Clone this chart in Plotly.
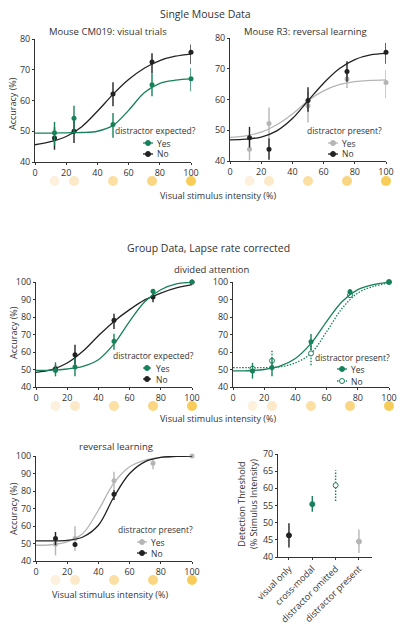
import plotly.graph_objects as go

GREEN = '#17815a'
BLACK = '#222222'
GREY = '#b5b5b5'
AX = '#333333'
FONT = 'Open Sans'
DOT = '1.5px,1.5px'

# ---------------- data ----------------
intensity = [12.5, 25, 50, 75, 100]
circle_colors = ['#fdf1de', '#fce9c7', '#fbdfa3', '#fad682', '#f8cc58']
fit_x = [0, 10, 20, 30, 40, 50, 60, 70, 80, 90, 100]

# Panel 1: Mouse CM019 visual trials (distractor expected?)
p1_yes = [49.5, 54.2, 52.2, 65.1, 67.1]
p1_yes_hi = [53.0, 58.3, 55.9, 68.9, 70.6]
p1_yes_lo = [45.4, 49.6, 47.9, 61.4, 63.0]
p1_no = [47.8, 50.0, 62.1, 72.5, 75.7]
p1_no_hi = [51.3, 53.8, 65.9, 75.4, 78.2]
p1_no_lo = [44.0, 46.2, 58.1, 68.9, 71.9]
p1_yes_fit = [49.4, 49.4, 49.5, 49.6, 50.0, 51.9, 56.8, 62.5, 65.6, 66.6, 67.0]
p1_no_fit = [45.6, 46.6, 48.3, 51.5, 56.5, 62.0, 66.8, 70.5, 73.0, 74.4, 75.1]

# Panel 2: Mouse R3 reversal learning (distractor present?)
p2_yes = [43.8, 52.2, 58.0, 66.7, 65.5]
p2_yes_hi = [47.3, 57.4, 62.5, 69.6, 69.6]
p2_yes_lo = [40.2, 46.8, 52.5, 63.7, 60.4]
p2_no = [47.6, 43.8, 59.7, 69.1, 75.4]
p2_no_hi = [51.1, 47.3, 64.0, 72.4, 78.4]
p2_no_lo = [44.4, 40.4, 56.0, 65.8, 71.6]
p2_yes_fit = [47.7, 48.2, 49.4, 51.8, 55.3, 59.6, 62.8, 64.8, 65.8, 66.2, 66.4]
p2_no_fit = [46.9, 47.1, 47.8, 49.8, 53.8, 59.6, 65.3, 70.0, 73.0, 74.5, 75.0]

# Panel 3: group, divided attention (distractor expected?)
p3_yes = [49.5, 51.4, 66.1, 94.7, 100]
p3_yes_hi = [54.1, 56.6, 70.5, 96.0, 100]
p3_yes_lo = [46.1, 46.1, 61.3, 92.8, 100]
p3_no = [50.5, 58.5, 78.1, 91.4, 100]
p3_no_hi = [52.5, 64.2, 81.9, 94.1, 100]
p3_no_lo = [48.5, 52.8, 73.1, 88.4, 100]
p3_yes_fit = [49.5, 49.6, 50.3, 51.8, 55.6, 64.6, 77.5, 89.0, 95.6, 98.9, 99.8]
p3_no_fit = [48.4, 49.9, 53.7, 60.4, 69.3, 77.5, 84.2, 89.9, 93.7, 96.6, 98.5]

# Panel 4: group, divided attention (distractor present?)
p4_yes = [49.2, 51.1, 65.9, 94.4, 100]
p4_yes_hi = [53.8, 56.3, 70.3, 96.0, 100]
p4_yes_lo = [44.8, 46.2, 61.1, 92.7, 100]
p4_no = [50.5, 55.0, 59.2, 92.5, 100]
p4_no_hi = [52.0, 61.5, 65.0, 94.6, 100]
p4_no_lo = [49.0, 49.6, 52.5, 90.8, 100]
p4_yes_fit = [49.2, 49.3, 50.0, 51.9, 56.3, 64.9, 77.4, 88.9, 95.6, 98.5, 99.8]
p4_no_fit = [51.1, 51.1, 51.1, 51.5, 53.8, 59.2, 71.6, 85.0, 93.7, 97.5, 99.4]

# Panel 5: group, reversal learning (distractor present?)
p5_yes = [49.6, 52.8, 85.9, 95.8, 100]
p5_yes_hi = [54.7, 59.9, 91.0, 98.1, 100]
p5_yes_lo = [43.2, 45.7, 80.1, 92.4, 100]
p5_no_x = [12.5, 25, 50]
p5_no = [52.8, 49.4, 78.2]
p5_no_hi = [56.6, 50.5, 80.5]
p5_no_lo = [49.0, 48.0, 74.8]
p5_yes_fit = [49.0, 49.3, 50.9, 55.7, 69.0, 84.7, 93.9, 97.7, 99.2, 99.8, 100]
p5_no_fit = [51.5, 51.5, 51.8, 53.7, 60.4, 76.7, 90.0, 96.8, 99.2, 99.8, 100]

# Panel 6: detection thresholds
conditions = ['visual only', 'cross-modal', 'distractor omitted', 'distractor present']
thresholds = [46.3, 55.4, 60.9, 44.5]
thr_hi = [49.8, 57.8, 65.3, 48.0]
thr_lo = [42.8, 53.2, 56.3, 41.2]

W, H = 405, 626


def px(x):
    return x / W


def py(y):
    return 1 - y / H


fig = go.Figure()


def segs(xs, lo, hi):
    sx, sy = [], []
    for x, a, b in zip(xs, lo, hi):
        sx += [x, x, None]
        sy += [a, b, None]
    return sx, sy


def add_series(xa, ya, xs, ys, lo, hi, color, fit, open_marker=False, dash='solid'):
    fig.add_trace(go.Scatter(x=fit_x, y=fit, mode='lines', line=dict(color=color, width=1.3, shape='spline', dash=dash),
                             xaxis=xa, yaxis=ya, showlegend=False, hoverinfo='skip', cliponaxis=False))
    sx, sy = segs(xs, lo, hi)
    fig.add_trace(go.Scatter(x=sx, y=sy, mode='lines', line=dict(color=color, width=1.4, dash=dash),
                             xaxis=xa, yaxis=ya, showlegend=False, hoverinfo='skip', cliponaxis=False))
    if open_marker:
        mk = dict(symbol='circle', size=5, color='white', line=dict(color=color, width=1))
    else:
        mk = dict(symbol='circle', size=5, color=color)
    fig.add_trace(go.Scatter(x=xs, y=ys, mode='markers', marker=mk, xaxis=xa, yaxis=ya,
                             showlegend=False, cliponaxis=False))


# Panel 1
add_series('x', 'y', intensity, p1_no, p1_no_lo, p1_no_hi, BLACK, p1_no_fit)
add_series('x', 'y', intensity, p1_yes, p1_yes_lo, p1_yes_hi, GREEN, p1_yes_fit)
# Panel 2
add_series('x2', 'y2', intensity, p2_yes, p2_yes_lo, p2_yes_hi, GREY, p2_yes_fit)
add_series('x2', 'y2', intensity, p2_no, p2_no_lo, p2_no_hi, BLACK, p2_no_fit)
# Panel 3
add_series('x3', 'y3', intensity, p3_no, p3_no_lo, p3_no_hi, BLACK, p3_no_fit)
add_series('x3', 'y3', intensity, p3_yes, p3_yes_lo, p3_yes_hi, GREEN, p3_yes_fit)
# Panel 4
add_series('x4', 'y4', intensity, p4_no, p4_no_lo, p4_no_hi, GREEN, p4_no_fit, open_marker=True, dash=DOT)
add_series('x4', 'y4', intensity, p4_yes, p4_yes_lo, p4_yes_hi, GREEN, p4_yes_fit)
# Panel 5
add_series('x5', 'y5', intensity, p5_yes, p5_yes_lo, p5_yes_hi, GREY, p5_yes_fit)
add_series('x5', 'y5', p5_no_x, p5_no, p5_no_lo, p5_no_hi, BLACK, p5_no_fit)

# Panel 6
cond_colors = [BLACK, GREEN, GREEN, GREY]
cond_dash = ['solid', 'solid', DOT, 'solid']
cond_open = [False, False, True, False]
for c, v, lo, hi, col, d, op in zip(conditions, thresholds, thr_lo, thr_hi, cond_colors, cond_dash, cond_open):
    fig.add_trace(go.Scatter(x=[c, c], y=[lo, hi], mode='lines', line=dict(color=col, width=1.4, dash=d),
                             xaxis='x6', yaxis='y6', showlegend=False, hoverinfo='skip', cliponaxis=False))
    mk = dict(symbol='circle', size=5, color='white' if op else col, line=dict(color=col, width=1))
    fig.add_trace(go.Scatter(x=[c], y=[v], mode='markers', marker=mk, xaxis='x6', yaxis='y6',
                             showlegend=False, cliponaxis=False))

# stimulus intensity circles
for xa, ya in [('x', 'y7'), ('x2', 'y8'), ('x3', 'y9'), ('x4', 'y10'), ('x5', 'y11')]:
    fig.add_trace(go.Scatter(x=intensity, y=[0] * len(intensity), mode='markers',
                             marker=dict(size=10, color=circle_colors, line=dict(width=0)),
                             xaxis=xa, yaxis=ya, showlegend=False, hoverinfo='skip', cliponaxis=False))

tickfont = dict(family=FONT, size=9, color=AX)


def xax(x0, x1, anchor):
    return dict(domain=[px(x0), px(x1)], anchor=anchor, range=[0, 100], dtick=20, showline=True,
                linecolor=AX, linewidth=1, ticks='outside', ticklen=2, tickcolor=AX, showgrid=False,
                zeroline=False, tickfont=tickfont, fixedrange=True, automargin=False)


def yax(y0, y1, anchor, lo, hi, dtick=10):
    return dict(domain=[py(y1), py(y0)], anchor=anchor, range=[lo, hi], dtick=dtick, showline=True,
                linecolor=AX, linewidth=1, ticks='outside', ticklen=2, tickcolor=AX, showgrid=False,
                zeroline=False, tickfont=tickfont, fixedrange=True, automargin=False)


def hid(y0, y1, anchor):
    return dict(domain=[py(y1), py(y0)], anchor=anchor, range=[-1, 1], visible=False, fixedrange=True,
                automargin=False)


layout = dict(
    width=W, height=H, margin=dict(l=0, r=0, t=0, b=0, autoexpand=False), paper_bgcolor='white',
    plot_bgcolor='white', font=dict(family=FONT, color=AX), showlegend=False,
    xaxis=xax(35, 191, 'y'), yaxis=yax(39, 162, 'x', 40, 80),
    xaxis2=xax(230, 386, 'y2'), yaxis2=yax(38, 161, 'x2', 40, 80),
    xaxis3=xax(36, 192, 'y3'), yaxis3=yax(282, 387, 'x3', 40, 100),
    xaxis4=xax(233, 389, 'y4'), yaxis4=yax(282, 387, 'x4', 40, 100),
    xaxis5=xax(36, 192, 'y5'), yaxis5=yax(456, 561, 'x5', 40, 100),
    xaxis6=dict(domain=[px(278), px(372)], anchor='y6', type='category', range=[-0.47, 3.56],
                showline=True, linecolor=AX, linewidth=1, ticks='outside', ticklen=2, tickcolor=AX,
                showgrid=False, tickangle=-45, tickfont=dict(family=FONT, size=9, color=AX),
                fixedrange=True, automargin=False),
    yaxis6=yax(454, 557, 'x6', 40, 70, dtick=5),
    yaxis7=hid(175, 187, 'x'), yaxis8=hid(175, 187, 'x2'),
    yaxis9=hid(400, 412, 'x3'), yaxis10=hid(400, 412, 'x4'),
    yaxis11=hid(574, 586, 'x5'),
)
fig.update_layout(**layout)

ann = []


def text(x, y, s, size=9, xanchor='center', angle=0):
    ann.append(dict(x=px(x), y=py(y), xref='paper', yref='paper', text=s, showarrow=False,
                    xanchor=xanchor, yanchor='middle', textangle=angle,
                    font=dict(family=FONT, size=size, color=AX)))


text(205, 14, 'Single Mouse Data', size=10.5)
text(108, 31, 'Mouse CM019: visual trials', size=9.5)
text(305, 31, 'Mouse R3: reversal learning', size=9.5)
text(218, 195, 'Visual stimulus intensity (%)', size=9)
text(208, 248, 'Group Data, Lapse rate corrected', size=10.5)
text(211, 269, 'divided attention', size=9.5)
text(218, 418, 'Visual stimulus intensity (%)', size=9)
text(116, 446, 'reversal learning', size=9.5)
text(110, 594, 'Visual stimulus intensity (%)', size=9)
text(13, 104, 'Accuracy (%)', size=9, angle=-90)
text(13, 333, 'Accuracy (%)', size=9, angle=-90)
text(13, 509, 'Accuracy (%)', size=9, angle=-90)
text(247, 504, 'Detection Threshold<br>(% Stimulus Intensity)', size=9, angle=-90)

shapes = []


def leg(cx, ty, title, gx0, gx1, tx, y1, y2, items):
    text(cx, ty, title, size=8.5)
    for (lab, col, op, dash), yy in zip(items, [y1, y2]):
        shapes.append(dict(type='line', xref='paper', yref='paper', x0=px(gx0), x1=px(gx1), y0=py(yy), y1=py(yy),
                           line=dict(color=col, width=1.3, dash=dash)))
        m = (gx0 + gx1) / 2
        shapes.append(dict(type='circle', xref='paper', yref='paper', x0=px(m - 2.5), x1=px(m + 2.5),
                           y0=py(yy + 2.5), y1=py(yy - 2.5), fillcolor='white' if op else col,
                           line=dict(color=col, width=1)))
        text(tx, yy, lab, size=8.5, xanchor='left')


leg(155, 130, 'distractor expected?', 143, 153, 155, 143, 154,
    [('Yes', GREEN, False, 'solid'), ('No', BLACK, False, 'solid')])
leg(344, 130, 'distractor present?', 328, 338, 340, 143, 154,
    [('Yes', GREY, False, 'solid'), ('No', BLACK, False, 'solid')])
leg(153, 356, 'distractor expected?', 143, 151, 154, 368, 379,
    [('Yes', GREEN, False, 'solid'), ('No', BLACK, False, 'solid')])
leg(352, 357, 'distractor present?', 337, 347, 349, 369, 381,
    [('Yes', GREEN, False, 'solid'), ('No', GREEN, True, DOT)])
leg(155, 529, 'distractor present?', 137, 147, 149, 542, 553,
    [('Yes', GREY, False, 'solid'), ('No', BLACK, False, 'solid')])

fig.update_layout(annotations=ann, shapes=shapes)
fig.write_html('out.html', config={'displayModeBar': False},
               post_script="document.body.style.margin='0px';document.body.style.overflow='hidden';")
